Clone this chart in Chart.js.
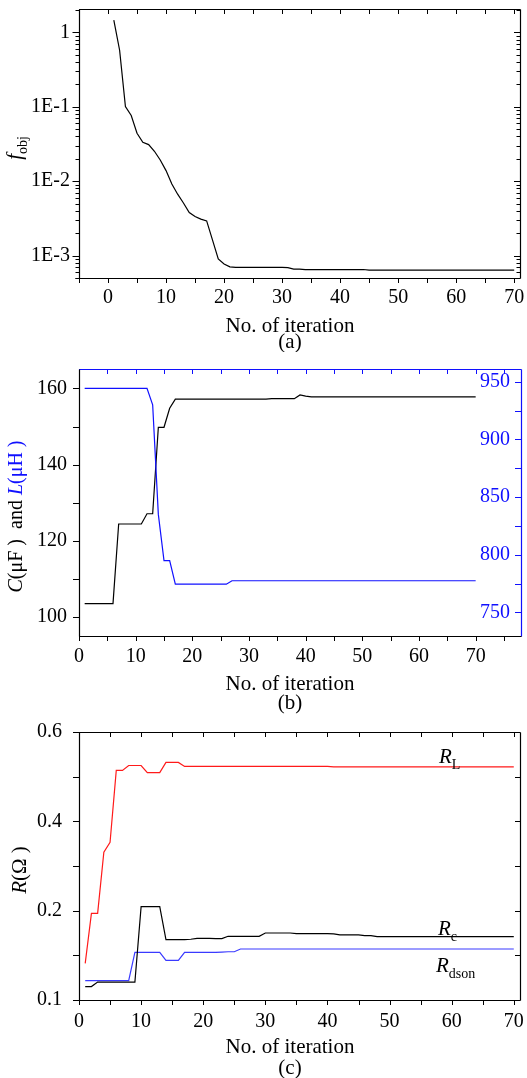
<!DOCTYPE html>
<html><head><meta charset="utf-8">
<script src="https://cdn.jsdelivr.net/npm/chart.js@4.4.0/dist/chart.umd.min.js"></script>
<style>
html,body{margin:0;padding:0;background:#fff;}
#wrap{position:relative;width:527px;height:1078px;overflow:hidden;}
canvas{position:absolute;left:0;}
</style></head><body>
<div id="wrap">
<canvas id="ca" width="527" height="352" style="top:0px"></canvas>
<canvas id="cb" width="527" height="362" style="top:352px"></canvas>
<canvas id="cc" width="527" height="364" style="top:714px"></canvas>
</div>
<script>
// ---------------- data ----------------
const iterations = [1,2,3,4,5,6,7,8,9,10,11,12,13,14,15,16,17,18,19,20,21,22,23,24,25,26,27,28,29,30,31,32,33,34,35,36,37,38,39,40,41,42,43,44,45,46,47,48,49,50,51,52,53,54,55,56,57,58,59,60,61,62,63,64,65,66,67,68,69,70];

// (a) objective function
const fObj = [1.47,0.577,0.101,0.0766,0.0442,0.0334,0.0311,0.0253,0.0193,0.0139,
  0.0092,0.0067,0.0051,0.0038,0.00335,0.0031,0.00293,0.00163,0.00090,0.00077,
  0.000705,0.000695,0.000695,0.000695,0.000695,0.000695,0.000695,0.000695,0.000695,0.000695,
  0.00069,0.00066,0.00066,0.00065,0.00065,0.00065,0.00065,0.00065,0.00065,0.00065,
  0.00065,0.00065,0.00065,0.00065,0.00064,0.00064,0.00064,0.00064,0.00064,0.00064,
  0.00064,0.00064,0.00064,0.00064,0.00064,0.00064,0.00064,0.00064,0.00064,0.00064,
  0.00064,0.00064,0.00064,0.00064,0.00064,0.00064,0.00064,0.00064,0.00064,0.00064];
const aXTickValues = [0,10,20,30,40,50,60,70];
const aYTickValues = [1,0.1,0.01,0.001];
const aYTickLabels = ['1','1E-1','1E-2','1E-3'];

// (b) capacitance C (uF) and inductance L (uH)
const capC = [103.5,103.5,103.5,103.5,103.5,103.5,124.4,124.4,124.4,124.4,
  124.4,127.1,127.1,149.8,149.8,154.8,157.2,157.2,157.2,157.2,
  157.2,157.2,157.2,157.2,157.2,157.2,157.2,157.2,157.2,157.2,
  157.2,157.2,157.2,157.3,157.3,157.3,157.3,157.3,158.3,158.0,
  157.8,157.8,157.8,157.8,157.8,157.8,157.8,157.8,157.8,157.8,
  157.8,157.8,157.8,157.8,157.8,157.8,157.8,157.8,157.8,157.8,
  157.8,157.8,157.8,157.8,157.8,157.8,157.8,157.8,157.8,157.8];
const indL = [944.2,944.2,944.2,944.2,944.2,944.2,944.2,944.2,944.2,944.2,
  944.2,944.2,930,835,795,795,774.5,774.5,774.5,774.5,
  774.5,774.5,774.5,774.5,774.5,774.5,777.5,777.5,777.5,777.5,
  777.5,777.5,777.5,777.5,777.5,777.5,777.5,777.5,777.5,777.5,
  777.5,777.5,777.5,777.5,777.5,777.5,777.5,777.5,777.5,777.5,
  777.5,777.5,777.5,777.5,777.5,777.5,777.5,777.5,777.5,777.5,
  777.5,777.5,777.5,777.5,777.5,777.5,777.5,777.5,777.5,777.5];
const bXTickValues = [0,10,20,30,40,50,60,70];
const bYTickValues = [100,120,140,160];
const bY2TickValues = [750,800,850,900,950];

// (c) resistances
const rL = [0.141,0.197,0.197,0.331,0.353,0.514,0.514,0.525,0.525,0.525,
  0.509,0.509,0.509,0.532,0.532,0.532,0.523,0.523,0.523,0.523,
  0.523,0.523,0.523,0.523,0.523,0.523,0.523,0.523,0.523,0.523,
  0.523,0.523,0.523,0.523,0.523,0.523,0.523,0.523,0.523,0.523,
  0.522,0.522,0.522,0.522,0.522,0.522,0.522,0.522,0.522,0.522,
  0.522,0.522,0.522,0.522,0.522,0.522,0.522,0.522,0.522,0.522,
  0.522,0.522,0.522,0.522,0.522,0.522,0.522,0.522,0.522,0.522];
const rC = [0.115,0.115,0.120,0.120,0.120,0.120,0.120,0.120,0.120,0.209,
  0.209,0.209,0.209,0.1675,0.1675,0.1675,0.1675,0.168,0.169,0.169,
  0.169,0.1687,0.1687,0.1713,0.1713,0.1713,0.1713,0.1713,0.1713,0.175,
  0.175,0.175,0.175,0.175,0.1743,0.1743,0.1743,0.1743,0.1743,0.1743,
  0.174,0.1728,0.1728,0.1728,0.1728,0.172,0.172,0.1709,0.1709,0.1709,
  0.1709,0.1709,0.1709,0.1709,0.1709,0.1709,0.1709,0.1709,0.1709,0.1709,
  0.1709,0.1709,0.1709,0.1709,0.1709,0.1709,0.1709,0.1709,0.1709,0.1709];
const rDson = [0.1216,0.1216,0.1216,0.1216,0.1216,0.1216,0.1216,0.1216,0.1534,0.1534,
  0.1534,0.1534,0.1534,0.1444,0.1444,0.1444,0.1534,0.1534,0.1534,0.1534,
  0.1534,0.1534,0.1537,0.154,0.154,0.1571,0.1571,0.1571,0.1571,0.1571,
  0.1571,0.1571,0.1571,0.1571,0.1571,0.1571,0.1571,0.1571,0.1571,0.1571,
  0.1571,0.1571,0.1571,0.1571,0.1571,0.1571,0.1571,0.1571,0.1571,0.1571,
  0.1571,0.1571,0.1571,0.1571,0.1571,0.1571,0.1571,0.1571,0.1571,0.1571,
  0.1571,0.1571,0.1571,0.1571,0.1571,0.1571,0.1571,0.1571,0.1571,0.1571];
const cXTickValues = [0,10,20,30,40,50,60,70];
const cYTickValues = [0.1,0.2,0.4,0.6];
const cYMinorValues = [0.15,0.3,0.5];

// ---------------- helpers ----------------
const FONT = '"Liberation Serif","Times New Roman",serif';
const pts = (xs, ys) => xs.map((x, i) => ({x: x, y: ys[i]}));
const range = (a, b, s) => { const r = []; for (let v = a; v <= b + 1e-9; v += s) r.push(v); return r; };

// custom scale: equal spacing between the labelled break values, linear inside each segment
class BrokenLinearScale extends Chart.LinearScale {
  determineDataLimits() {
    const b = this.options.breaks;
    this.min = b[0]; this.max = b[b.length - 1];
  }
  buildTicks() { return this.options.breaks.map(v => ({value: v})); }
  _toDecimal(v) {
    const b = this.options.breaks, n = b.length - 1;
    let i = 0;
    while (i < n - 1 && v > b[i + 1]) i++;
    return (i + (v - b[i]) / (b[i + 1] - b[i])) / n;
  }
  getPixelForValue(v) { return this.getPixelForDecimal(this._toDecimal(v)); }
  getValueForPixel(p) {
    const b = this.options.breaks, n = b.length - 1;
    const d = this.getDecimalForPixel(p) * n;
    const i = Math.max(0, Math.min(n - 1, Math.floor(d)));
    return b[i] + (d - i) * (b[i + 1] - b[i]);
  }
}
BrokenLinearScale.id = 'brokenLinear';
BrokenLinearScale.defaults = {ticks: {callback: Chart.Ticks.formatters.numeric}};
Chart.register(BrokenLinearScale);

function drawRich(ctx, segs, x, y, size, rotate, align) {
  ctx.save();
  ctx.translate(x, y);
  if (rotate) ctx.rotate(rotate);
  const fontFor = s => (s.italic ? 'italic ' : '') + (s.sub ? Math.round(size * 0.68) : size) + 'px ' + FONT;
  let total = 0;
  segs.forEach(s => { ctx.font = fontFor(s); s._w = ctx.measureText(s.t).width; total += s._w; });
  let cx = align === 'left' ? 0 : -total / 2;
  ctx.textBaseline = 'alphabetic';
  ctx.textAlign = 'left';
  segs.forEach(s => {
    ctx.font = fontFor(s);
    ctx.fillStyle = s.color || '#000';
    ctx.fillText(s.t, cx, s.sub ? size * 0.27 : 0);
    cx += s._w;
  });
  ctx.restore();
}

const decor = {
  id: 'decor',
  afterDraw(chart, args, opts) {
    const {ctx, chartArea: a} = chart;
    ctx.save();
    ctx.lineWidth = 1;
    (opts.marks || []).forEach(m => {
      const s = chart.scales[m.scale];
      ctx.strokeStyle = m.color || '#000';
      ctx.beginPath();
      m.values.forEach(v => {
        const p = Math.round(s.getPixelForValue(v)) + 0.5;
        const sgn = m.dir === 'out' ? 1 : -1;
        if (m.side === 'left') { ctx.moveTo(a.left, p); ctx.lineTo(a.left - sgn * m.len, p); }
        else if (m.side === 'right') { ctx.moveTo(a.right, p); ctx.lineTo(a.right + sgn * m.len, p); }
        else if (m.side === 'top') { ctx.moveTo(p, a.top); ctx.lineTo(p, a.top - sgn * m.len); }
        else { ctx.moveTo(p, a.bottom); ctx.lineTo(p, a.bottom + sgn * m.len); }
      });
      ctx.stroke();
    });
    const f = opts.frame;
    const L = Math.round(a.left) + 0.5, R = Math.round(a.right) + 0.5, T = Math.round(a.top) + 0.5, B = Math.round(a.bottom) + 0.5;
    ctx.lineWidth = 1.2;
    [[L, T, R, T, f.top], [R, T, R, B, f.right], [L, B, R, B, f.bottom], [L, T, L, B, f.left]].forEach(l => {
      ctx.strokeStyle = l[4]; ctx.beginPath(); ctx.moveTo(l[0], l[1]); ctx.lineTo(l[2], l[3]); ctx.stroke();
    });
    (opts.texts || []).forEach(t => drawRich(ctx, t.segs, t.x, t.y, t.size, t.rotate, t.align));
    ctx.restore();
  }
};

const tickFont = {family: FONT, size: 20};
function xAxis(min, max, values, height, pad) {
  return {
    type: 'linear', position: 'bottom', min: min, max: max,
    afterBuildTicks: s => { s.ticks = values.map(v => ({value: v})); },
    ticks: {autoSkip: false, maxRotation: 0, padding: pad, font: tickFont, color: '#000', callback: v => String(v)},
    grid: {display: false, drawTicks: true, tickLength: 5},
    border: {display: false},
    afterFit: s => { s.height = height; s.paddingLeft = 0; s.paddingRight = 0; }
  };
}
const common = (padding) => ({
  responsive: false, animation: false, devicePixelRatio: 1,
  layout: {padding: padding},
  plugins: {legend: {display: false}, tooltip: {enabled: false}},
  elements: {point: {radius: 0}, line: {tension: 0, borderWidth: 1.2}}
});

// ---------------- chart (a) ----------------
(function () {
  const aMinor = [];
  [-4, -3, -2, -1, 0].forEach(e => { for (let k = 2; k <= 9; k++) { const v = k * Math.pow(10, e); if (v >= 5e-4 && v <= 2.07) aMinor.push(v); } });
  aMinor.push(5e-4 * 1.0001);
  const o = common({left: 0, right: 7, top: 9, bottom: 0});
  o.scales = {
    x: xAxis(-5, 71, aXTickValues, 74, 3),
    y: {
      type: 'logarithmic', position: 'left', min: 5e-4, max: 2.07,
      afterBuildTicks: s => { s.ticks = aYTickValues.map(v => ({value: v})); },
      ticks: {autoSkip: false, padding: 3, font: tickFont, color: '#000', callback: (v, i) => aYTickLabels[i]},
      grid: {display: false, drawTicks: true, tickLength: 6},
      border: {display: false},
      afterFit: s => { s.width = 79; s.paddingTop = 0; s.paddingBottom = 0; }
    }
  };
  o.plugins.decor = {
    frame: {top: '#000', right: '#000', bottom: '#000', left: '#000'},
    marks: [
      {scale: 'x', values: range(-5, 70, 5), side: 'bottom', dir: 'out', len: 5},
      {scale: 'x', values: range(-5, 70, 5), side: 'top', dir: 'in', len: 5},
      {scale: 'y', values: aYTickValues, side: 'left', dir: 'out', len: 6.5},
      {scale: 'y', values: aYTickValues, side: 'right', dir: 'in', len: 6},
      {scale: 'y', values: aMinor, side: 'left', dir: 'out', len: 3.5},
      {scale: 'y', values: aMinor, side: 'right', dir: 'in', len: 3.5}
    ],
    texts: [
      {segs: [{t: 'No. of iteration'}], x: 290, y: 332, size: 21},
      {segs: [{t: '(a)'}], x: 290, y: 348, size: 21},
      {segs: [{t: 'f', italic: true}, {t: 'obj', sub: true}], x: 21, y: 148, size: 21, rotate: -Math.PI / 2}
    ]
  };
  new Chart(document.getElementById('ca'), {
    type: 'line',
    data: {datasets: [{data: pts(iterations, fObj), borderColor: '#000', yAxisID: 'y'}]},
    options: o, plugins: [decor]
  });
})();

// ---------------- chart (b) ----------------
(function () {
  const blue = '#1010ff';
  const o = common({left: 0, right: 6, top: 17, bottom: 0});
  o.scales = {
    x: xAxis(0, 78, bXTickValues, 78, 4),
    y: {
      type: 'linear', position: 'left', min: 95, max: 165.1,
      afterBuildTicks: s => { s.ticks = bYTickValues.map(v => ({value: v})); },
      ticks: {autoSkip: false, padding: 6, font: tickFont, color: '#000'},
      grid: {display: false, drawTicks: true, tickLength: 6},
      border: {display: false},
      afterFit: s => { s.width = 79; s.paddingTop = 0; s.paddingBottom = 0; }
    },
    y2: {
      type: 'linear', position: 'right', min: 729.6, max: 961,
      afterBuildTicks: s => { s.ticks = bY2TickValues.map(v => ({value: v})); },
      ticks: {autoSkip: false, mirror: true, padding: -11, font: tickFont, color: blue},
      grid: {display: false, drawTicks: false},
      border: {display: false},
      afterFit: s => { s.width = 0; s.paddingTop = 0; s.paddingBottom = 0; }
    }
  };
  o.plugins.decor = {
    frame: {top: blue, right: blue, bottom: '#000', left: '#000'},
    marks: [
      {scale: 'x', values: range(0, 75, 5), side: 'bottom', dir: 'out', len: 5},
      {scale: 'x', values: range(0, 75, 5), side: 'top', dir: 'in', len: 5, color: blue},
      {scale: 'y', values: range(100, 160, 10), side: 'left', dir: 'out', len: 6},
      {scale: 'y2', values: range(750, 950, 25), side: 'right', dir: 'in', len: 6, color: blue}
    ],
    texts: [
      {segs: [{t: 'No. of iteration'}], x: 290, y: 338, size: 21},
      {segs: [{t: '(b)'}], x: 290, y: 357, size: 21},
      {segs: [{t: 'C', italic: true}, {t: '(\u03bcF )  and '}, {t: 'L', italic: true, color: blue}, {t: '(\u03bcH )', color: blue}],
        x: 22, y: 164.5, size: 20, rotate: -Math.PI / 2}
    ]
  };
  new Chart(document.getElementById('cb'), {
    type: 'line',
    data: {datasets: [
      {data: pts(iterations, indL), borderColor: blue, yAxisID: 'y2'},
      {data: pts(iterations, capC), borderColor: '#000', yAxisID: 'y'}
    ]},
    options: o, plugins: [decor]
  });
})();

// ---------------- chart (c) ----------------
(function () {
  const blue = '#3a3aff', red = '#ff1a1a';
  const o = common({left: 0, right: 7, top: 18, bottom: 0});
  o.scales = {
    x: xAxis(0, 71, cXTickValues, 78, 5),
    y: {
      type: 'brokenLinear', position: 'left', breaks: cYTickValues,
      ticks: {autoSkip: false, padding: 11, font: tickFont, color: '#000', callback: v => v.toFixed(1)},
      grid: {display: false, drawTicks: true, tickLength: 6},
      border: {display: false},
      afterFit: s => { s.width = 79; s.paddingTop = 0; s.paddingBottom = 0; }
    }
  };
  const allY = cYTickValues.concat(cYMinorValues);
  o.plugins.decor = {
    frame: {top: '#000', right: '#000', bottom: '#000', left: '#000'},
    marks: [
      {scale: 'x', values: range(0, 70, 5), side: 'bottom', dir: 'out', len: 5},
      {scale: 'x', values: range(0, 70, 5), side: 'top', dir: 'in', len: 5},
      {scale: 'y', values: allY, side: 'left', dir: 'out', len: 6},
      {scale: 'y', values: allY, side: 'right', dir: 'in', len: 5}
    ],
    texts: [
      {segs: [{t: 'No. of iteration'}], x: 290, y: 339, size: 21},
      {segs: [{t: '(c)'}], x: 290, y: 360, size: 21},
      {segs: [{t: 'R', italic: true}, {t: '(\u03a9 )'}], x: 26, y: 156, size: 21, rotate: -Math.PI / 2},
      {segs: [{t: 'R', italic: true}, {t: 'L', sub: true}], x: 439, y: 49, size: 21, align: 'left'},
      {segs: [{t: 'R', italic: true}, {t: 'c', sub: true}], x: 438, y: 221, size: 21, align: 'left'},
      {segs: [{t: 'R', italic: true}, {t: 'dson', sub: true}], x: 436, y: 258, size: 21, align: 'left'}
    ]
  };
  new Chart(document.getElementById('cc'), {
    type: 'line',
    data: {datasets: [
      {data: pts(iterations, rL), borderColor: red, yAxisID: 'y'},
      {data: pts(iterations, rC), borderColor: '#000', yAxisID: 'y'},
      {data: pts(iterations, rDson), borderColor: blue, yAxisID: 'y'}
    ]},
    options: o, plugins: [decor]
  });
})();
</script>
</body></html>
